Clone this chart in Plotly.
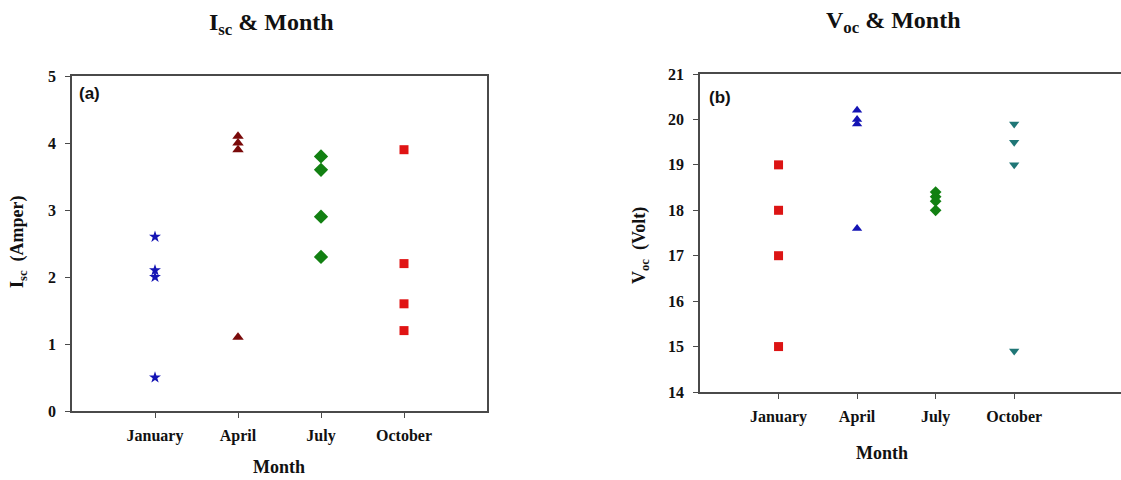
import plotly.graph_objects as go

months = ["January", "April", "July", "October"]

# Short-circuit current (A), four readings per month
isc_january = [2.6, 2.1, 2.0, 0.5]
isc_april = [4.1, 4.0, 3.9, 1.1]
isc_july = [3.8, 3.6, 2.9, 2.3]
isc_october = [3.9, 2.2, 1.6, 1.2]

# Open-circuit voltage (V), four readings per month
voc_january = [19.0, 18.0, 17.0, 15.0]
voc_april = [20.2, 20.0, 19.9, 17.6]
voc_july = [18.4, 18.3, 18.2, 18.0]
voc_october = [19.9, 19.5, 19.0, 14.9]

W, H = 1121, 480
SERIF = "Liberation Serif"
AXIS_COLOR = "#4a4a4a"

fig = go.Figure()


def add_series(month, values, symbol, color, size, xa, ya):
    fig.add_trace(go.Scatter(
        x=[month] * len(values), y=values, mode="markers",
        marker=dict(symbol=symbol, color=color, size=size, line=dict(width=0)),
        xaxis=xa, yaxis=ya, showlegend=False,
    ))


# (a) Isc
add_series("January", isc_january, "star", "#1414b4", 9, "x", "y")
add_series("April", isc_april, "triangle-up", "#7a0a0a", 10, "x", "y")
add_series("July", isc_july, "diamond", "#128012", 11, "x", "y")
add_series("October", isc_october, "square", "#e01414", 9, "x", "y")

# (b) Voc
add_series("January", voc_january, "square", "#dc1414", 9, "x2", "y2")
add_series("April", voc_april, "triangle-up", "#1414b4", 9, "x2", "y2")
add_series("July", voc_july, "diamond", "#128012", 9, "x2", "y2")
add_series("October", voc_october, "triangle-down", "#1f7676", 9, "x2", "y2")

tick_font = dict(family=SERIF, size=16, color="#111", weight="bold")

common_x = dict(
    type="category", categoryorder="array", categoryarray=months,
    showline=True, linecolor=AXIS_COLOR, linewidth=1.5,
    ticks="outside", ticklen=5, tickwidth=1.2, tickcolor=AXIS_COLOR,
    showgrid=False, zeroline=False, tickfont=tick_font,
    ticklabelstandoff=4, fixedrange=True, automargin=False,
)
common_y = dict(
    showline=True, linecolor=AXIS_COLOR, linewidth=1.5,
    ticks="outside", ticklen=5, tickwidth=1.2, tickcolor=AXIS_COLOR,
    showgrid=False, zeroline=False, tickfont=tick_font,
    ticklabelstandoff=6, dtick=1, fixedrange=True, automargin=False,
)

fig.update_layout(
    width=W, height=H,
    margin=dict(l=0, r=0, t=0, b=0, autoexpand=False),
    paper_bgcolor="white", plot_bgcolor="white",
    xaxis=dict(common_x, domain=[72 / W, 487 / W], range=[-1, 4],
               mirror=True, anchor="y"),
    yaxis=dict(common_y, domain=[1 - 411 / H, 1 - 76 / H], range=[0, 5],
               mirror=True, anchor="x"),
    xaxis2=dict(common_x, domain=[700 / W, 1.0], range=[-1, 4.36],
                mirror=True, anchor="y2"),
    yaxis2=dict(common_y, domain=[1 - 392 / H, 1 - 74 / H], range=[14, 21],
                mirror=False, anchor="x2"),
)

title_font = dict(family=SERIF, size=24, color="#111", weight="bold")
label_font = dict(family=SERIF, size=18, color="#111", weight="bold")
panel_font = dict(family="Liberation Sans", size=17, color="#111", weight="bold")


def note(text, x, y, font, xanchor="center", **kw):
    fig.add_annotation(text=text, xref="paper", yref="paper",
                       x=x / W, y=1 - y / H, showarrow=False, font=font,
                       xanchor=xanchor, yanchor="middle", **kw)


note("I<sub>sc</sub> & Month", 271, 24, title_font)
note("V<sub>oc</sub> & Month", 893, 22, title_font)
note("Month", 279, 467, label_font)
note("Month", 882, 453, label_font)
note("I<sub>sc</sub>  (Amper)", 18, 242, label_font, textangle=-90)
note("V<sub>oc</sub>  (Volt)", 641, 246, label_font, textangle=-90)
note("(a)", 77, 94, panel_font, xanchor="left")
note("(b)", 707, 97, panel_font, xanchor="left")

fig.write_html("out.html")
